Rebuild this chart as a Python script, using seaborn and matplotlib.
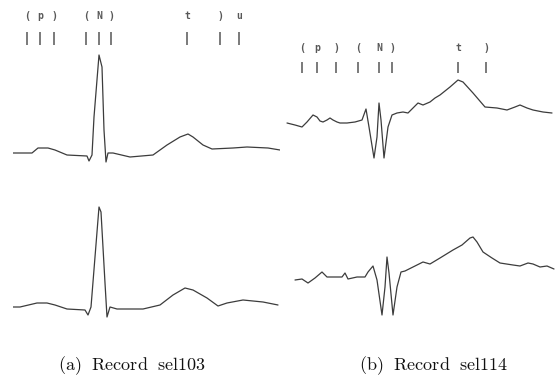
import numpy as np
import pandas as pd
import matplotlib
matplotlib.use("Agg")
import matplotlib.pyplot as plt
import seaborn as sns

# ---------------- data ----------------
# Record sel103 (time in ms, amplitude in mV)
a1_t = [0, 76, 100, 140, 168, 216, 296, 304, 316, 324, 344, 356, 364, 372, 380, 400, 468, 560,
        616, 668, 700, 720, 760, 796, 880, 936, 1020, 1068]
a1_v = [0, 0, .05, .05, .03, -.02, -.03, -.08, -.02, .36, .98, .86, .23, -.09, 0, 0, -.04, -.02,
        .08, .16, .19, .16, .08, .04, .05, .06, .05, .03]
a2_t = [0, 28, 96, 136, 168, 216, 288, 300, 312, 328, 344, 352, 368, 376, 388, 416, 520, 588,
        640, 688, 720, 776, 820, 856, 920, 1000, 1060]
a2_v = [.01, .01, .05, .05, .03, -.01, -.02, -.07, .01, .51, 1.01, .96, .25, -.09, .01, -.01, -.01,
        .03, .13, .20, .18, .10, .02, .05, .08, .06, .03]
a_ann_t = [56, 108, 164, 292, 344, 392, 696, 828, 904]
a_ann_lab = ["(", "p", ")", "(", "N", ")", "t", ")", "u"]

# Record sel114
b1_t = [8, 40, 68, 88, 112, 128, 140, 152, 168, 180, 192, 208, 220, 248, 280, 308, 324, 336, 356,
        368, 376, 384, 396, 412, 428, 448, 472, 492, 512, 532, 552, 580, 600, 620, 640, 660, 692,
        712, 752, 800, 848, 888, 920, 940, 968, 992, 1032, 1068]
b1_v = [-.03, -.05, -.07, -.02, .05, .03, -.01, -.02, 0, .02, 0, -.02, -.03, -.03, -.02, 0, .11,
        -.07, -.38, -.17, .17, 0, -.38, -.07, .05, .07, .08, .07, .12, .17, .15, .18, .22, .25,
        .29, .33, .40, .38, .27, .13, .12, .10, .13, .15, .12, .10, .08, .07]
b2_t = [40, 68, 92, 120, 148, 168, 200, 228, 240, 252, 288, 320, 332, 352, 368, 388, 400, 408, 416,
        432, 448, 464, 480, 512, 552, 580, 620, 672, 708, 740, 752, 768, 792, 828, 860, 912, 940,
        972, 992, 1020, 1048, 1076]
b2_v = [0, .01, -.03, .02, .08, .03, .03, .03, .07, .01, .03, .03, .08, .14, 0, -.35, -.07, .23,
        .07, -.35, -.07, .08, .09, .13, .18, .16, .22, .30, .35, .42, .43, .38, .28, .22, .17, .15,
        .14, .17, .16, .13, .14, .11]
b_ann_t = [68, 128, 204, 292, 376, 428, 692, 804]
b_ann_lab = ["(", "p", ")", "(", "N", ")", "t", ")"]

captions = [r"$\mathrm{(a)\ \ Record\ \ sel103}$", r"$\mathrm{(b)\ \ Record\ \ sel114}$"]

# ---------------- plot ----------------
sns.set_style("white")
plt.rcParams["mathtext.fontset"] = "cm"
W, H = 555, 385
fig = plt.figure(figsize=(W / 100, H / 100), dpi=100)

panels = [
    dict(t1=a1_t, v1=a1_v, t2=a2_t, v2=a2_v, ann_t=a_ann_t, ann_lab=a_ann_lab,
         px=(13, 280), xlim=(0, 1068), ylim=(-1.77, 1.53), off=-1.55,
         lab_y=1.37, tick=(1.08, 1.21)),
    dict(t1=b1_t, v1=b1_v, t2=b2_t, v2=b2_v, ann_t=b_ann_t, ann_lab=b_ann_lab,
         px=(285, 555), xlim=(0, 1080), ylim=(-2.1, 1.2), off=-1.6,
         lab_y=0.72, tick=(0.47, 0.58)),
]

line_col = "#3c3c3c"
for p in panels:
    x0, x1 = p["px"]
    ax = fig.add_axes([x0 / W, (H - 330) / H, (x1 - x0) / W, 330 / H])
    df = pd.concat([
        pd.DataFrame({"t": p["t1"], "v": p["v1"], "lead": "1"}),
        pd.DataFrame({"t": p["t2"], "v": np.array(p["v2"]) + p["off"], "lead": "2"}),
    ])
    sns.lineplot(data=df, x="t", y="v", units="lead", estimator=None, sort=False,
                 color=line_col, lw=0.9, ax=ax, legend=False)
    ax.vlines(p["ann_t"], p["tick"][0], p["tick"][1], color="#6f6f6f", lw=1.3)
    for tt, lab in zip(p["ann_t"], p["ann_lab"]):
        ax.text(tt, p["lab_y"], lab, ha="center", va="center", fontsize=7,
                family="DejaVu Sans Mono", color="#585858", fontweight="bold")
    ax.set_xlim(*p["xlim"])
    ax.set_ylim(*p["ylim"])
    ax.set_axis_off()

for cx, cap in zip([132, 434], captions):
    fig.text(cx / W, 1 - 366 / H, cap, ha="center", va="center", fontsize=13,
             color="#111111")

fig.savefig("out.png", dpi=100)
